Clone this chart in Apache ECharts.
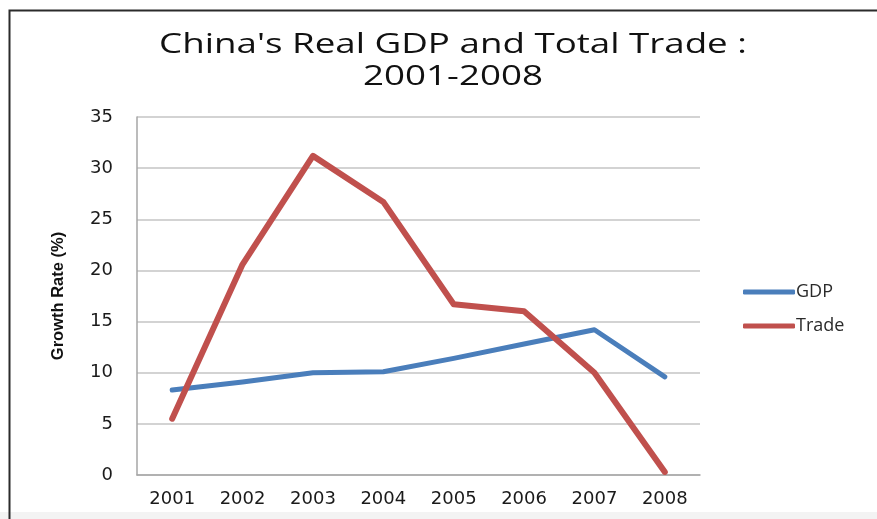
<!DOCTYPE html>
<html>
<head>
<meta charset="utf-8">
<script src="https://cdn.jsdelivr.net/npm/echarts@6/dist/echarts.min.js"></script>
<style>
  html, body { margin: 0; padding: 0; background: #ffffff; }
  #chart { width: 877px; height: 519px; }
</style>
</head>
<body>
<div id="chart"></div>
<script>
// Years on the category axis
const years = ['2001', '2002', '2003', '2004', '2005', '2006', '2007', '2008'];
// Annual growth rates (%)
const gdpGrowth = [8.3, 9.1, 10.0, 10.1, 11.4, 12.8, 14.2, 9.6];
const tradeGrowth = [5.5, 20.6, 31.2, 26.7, 16.7, 16.0, 10.0, 0.3];
// Chart heading, two lines
const titleLines = ["China's Real GDP and Total Trade :", '2001-2008'];

const chart = echarts.init(document.getElementById('chart'), null, { renderer: 'canvas' });

const axisFont = 'DejaVu Sans';
const titleFont = '27px "Open Sans"';

chart.setOption({
  backgroundColor: '#ffffff',
  animation: false,
  legend: {
    orient: 'vertical',
    left: 738,
    top: 278,
    itemWidth: 52,
    itemHeight: 5,
    itemGap: 16,
    icon: 'roundRect',
    textStyle: {
      fontFamily: 'Open Sans',
      fontSize: 18,
      color: '#2a2a2a',
      padding: [0, 0, 0, -4]
    },
    data: ['GDP', 'Trade']
  },
  grid: {
    left: 137,
    right: 177,
    top: 117,
    bottom: 44,
    containLabel: false
  },
  xAxis: {
    type: 'category',
    data: years,
    boundaryGap: true,
    axisLine: { lineStyle: { color: '#a6a6a6', width: 1.5 } },
    axisTick: { show: false },
    axisLabel: {
      fontFamily: axisFont,
      fontSize: 18,
      color: '#1a1a1a',
      margin: 15
    }
  },
  yAxis: {
    type: 'value',
    min: 0,
    max: 35,
    interval: 5,
    name: 'Growth Rate (%)',
    nameLocation: 'middle',
    nameGap: 70,
    nameRotate: 90,
    nameTextStyle: {
      fontFamily: 'Liberation Sans Narrow, Liberation Sans',
      fontSize: 16.5,
      fontWeight: 'bold',
      color: '#111111'
    },
    axisLine: { show: true, lineStyle: { color: '#a6a6a6', width: 1.5 } },
    axisTick: { show: false },
    axisLabel: {
      fontFamily: axisFont,
      fontSize: 18,
      color: '#1a1a1a',
      margin: 24
    },
    splitLine: { lineStyle: { color: '#c4c4c4', width: 1.5 } }
  },
  series: [
    {
      name: 'GDP',
      type: 'line',
      data: gdpGrowth,
      symbol: 'none',
      color: '#4a7ebb',
      lineStyle: { width: 5, color: '#4a7ebb', cap: 'round', join: 'round' },
      z: 3
    },
    {
      name: 'Trade',
      type: 'line',
      data: tradeGrowth,
      symbol: 'none',
      color: '#c0504d',
      lineStyle: { width: 6, color: '#c0504d', cap: 'round', join: 'round' },
      z: 4
    }
  ],
  graphic: [
    {
      type: 'rect',
      silent: true,
      z: -1,
      shape: { x: 0, y: 512, width: 877, height: 7 },
      style: { fill: '#f3f3f3' }
    },
    {
      type: 'polyline',
      silent: true,
      shape: { points: [[9.5, 519], [9.5, 10.5], [877, 10.5]] },
      style: { stroke: '#2b2b2b', lineWidth: 2, fill: null }
    },
    // Heading, widened to the chart's layout
    {
      type: 'text',
      silent: true,
      x: 453,
      y: 45,
      scaleX: 1.36,
      style: {
        text: titleLines[0],
        font: titleFont,
        fill: '#111111',
        align: 'center',
        verticalAlign: 'middle'
      }
    },
    {
      type: 'text',
      silent: true,
      x: 453,
      y: 77,
      scaleX: 1.36,
      style: {
        text: titleLines[1],
        font: titleFont,
        fill: '#111111',
        align: 'center',
        verticalAlign: 'middle'
      }
    }
  ]
});
</script>
</body>
</html>
